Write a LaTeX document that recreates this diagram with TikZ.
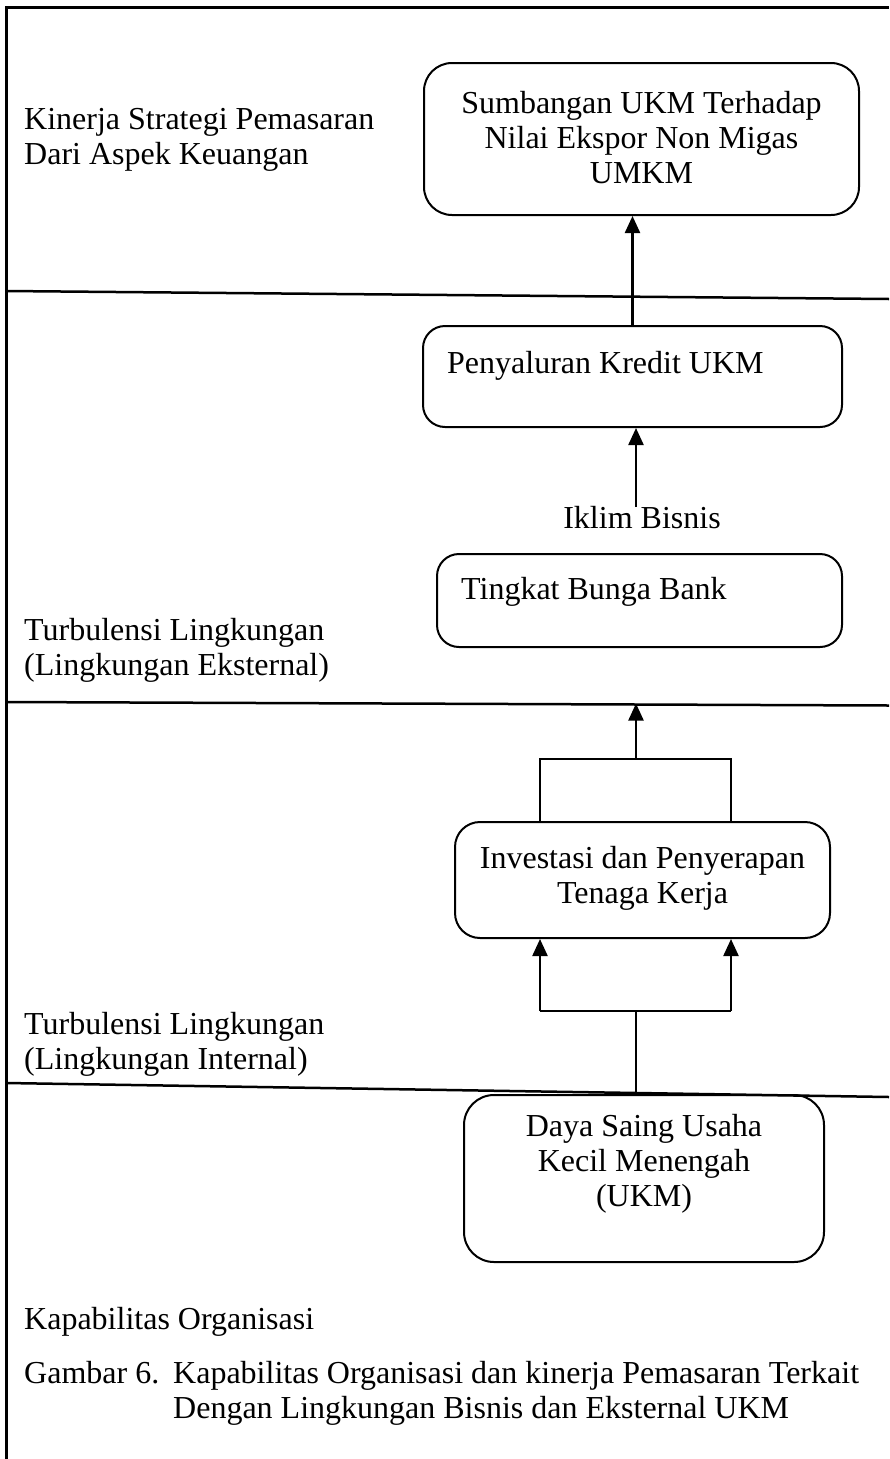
\documentclass[tikz,border=0pt]{standalone}
\usepackage{fontspec}
\setmainfont{Liberation Serif}
\usetikzlibrary{arrows.meta}
\begin{document}
\begin{tikzpicture}[x=1pt,y=-1pt,
  every node/.style={font=\fontsize{32}{35}\selectfont},
  box/.style={draw, line width=2pt, inner sep=0pt},
  txt/.style={inner sep=0pt, align=center},
  ltxt/.style={inner sep=0pt, anchor=base west, align=left},
  sep/.style={line width=2.5pt},
  conn/.style={line width=2.3pt, -{Triangle[length=17pt,width=15pt]}},
  plain/.style={line width=2pt}]
\useasboundingbox (0,0) rectangle (889,1459);

% outer frame (left and top edges)
\draw[line width=2.4pt] (6.5,1459) -- (6.5,7.5) -- (889,7.5);

% layer separators
\draw[sep] (6,291) -- (889,299);
\draw[sep] (6,702) -- (889,705.5);
\draw[sep] (6,1083) -- (889,1097);

% layer labels (base anchor sits on the last line)
\node[ltxt] (lkin) at (24,164) {Kinerja Strategi Pemasaran\\Dari Aspek Keuangan};
\node[ltxt] (lext) at (24,675) {Turbulensi Lingkungan\\(Lingkungan Eksternal)};
\node[ltxt] (lint) at (24,1069) {Turbulensi Lingkungan\\(Lingkungan Internal)};
\node[ltxt] (lkap) at (24,1329) {Kapabilitas Organisasi};
\node[ltxt] (gb) at (24,1383) {Gambar 6.};
\node[ltxt] (gbt) at (173,1418) {Kapabilitas Organisasi dan kinerja Pemasaran Terkait\\Dengan Lingkungan Bisnis dan Eksternal UKM};

% boxes
\node[box, rounded corners=28pt, minimum width=435pt, minimum height=152pt] (top) at (641.5,139) {};
\node[txt] (toptx) at (641.5,138) {Sumbangan UKM Terhadap\\Nilai Ekspor Non Migas\\UMKM};

\node[box, rounded corners=22pt, minimum width=419pt, minimum height=101pt] (pen) at (632.5,376.5) {};
\node[ltxt] (pentx) at (447,373) {Penyaluran Kredit UKM};

\node[txt] (iklim) at (642,518) {Iklim Bisnis};

\node[box, rounded corners=22pt, minimum width=405pt, minimum height=93pt] (tbb) at (639.5,600.5) {};
\node[ltxt] (tbbtx) at (461,599) {Tingkat Bunga Bank};

\node[box, rounded corners=25pt, minimum width=375pt, minimum height=116pt] (inv) at (642.5,880) {};
\node[txt] (invtx) at (642.5,878) {Investasi dan Penyerapan\\Tenaga Kerja};

\node[box, rounded corners=30pt, minimum width=360pt, minimum height=167pt] (dsu) at (644,1178.5) {};
\node[txt] (dsutx) at (644,1164) {Daya Saing Usaha\\Kecil Menengah\\(UKM)};

% connector points
\coordinate (l2m) at (636,703.5);
\coordinate (brk) at (636,759);
\coordinate (brl) at (540,759);
\coordinate (brr) at (731,759);
\coordinate (fork) at (636,1011);
\coordinate (fkl) at (540,1011);
\coordinate (fkr) at (731,1011);
\coordinate (ikt) at (636,507);

% connectors
\draw[conn] (pen.north) -- (pen.north |- top.south);
\draw[conn] (ikt) -- (ikt |- pen.south);
\draw[conn] (brk) -- (l2m);
\draw[plain] (brl |- inv.north) -- (brl) -- (brr) -- (brr |- inv.north);
\draw[line width=1.6pt] (dsu.north -| fork) -- (fork);
\draw[plain] (fkl) -- (fkr);
\draw[conn] (fkl) -- (fkl |- inv.south);
\draw[conn] (fkr) -- (fkr |- inv.south);
\end{tikzpicture}
\end{document}
